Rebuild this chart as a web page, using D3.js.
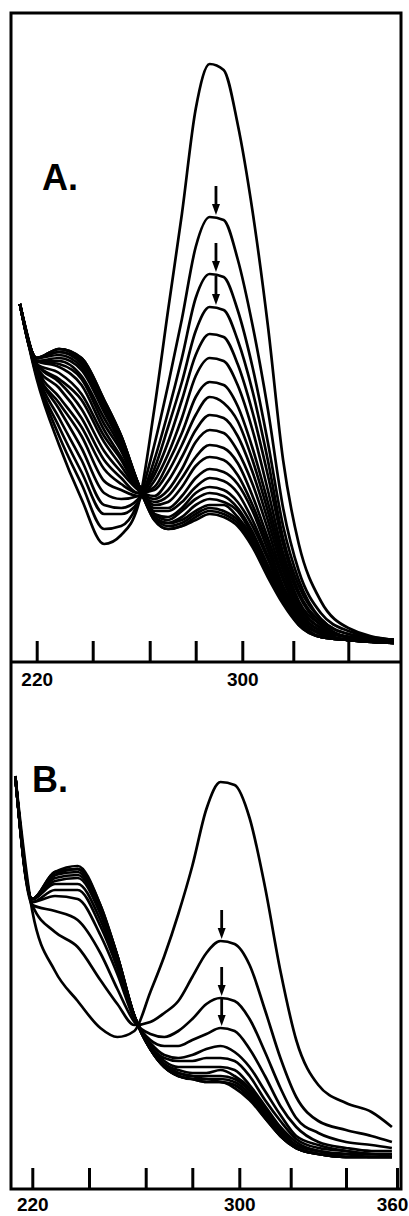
<!DOCTYPE html>
<html>
<head>
<meta charset="utf-8">
<script src="https://cdn.jsdelivr.net/npm/d3@7"></script>
<style>
body { margin: 0; background: #fff; }
svg { display: block; background: #fff; }
.axis text { font-family: 'Liberation Sans', Arial, sans-serif; font-weight: bold; font-size: 19px; fill: #000; }
.axis line, .axis path { stroke: #000; stroke-width: 3; }
.label { font-family: 'Liberation Sans', Arial, sans-serif; font-weight: bold; font-size: 36px; }
</style>
</head>
<body>
<svg id="chart" width="409" height="1216"></svg>
<script>
// wavelengths (nm) the spectra were read at
var wavelengthsA = [214, 220, 228, 236, 244, 250, 256, 262, 268, 274, 280, 286, 292, 298, 304, 310, 316, 322, 330, 340, 358]
var wavelengthsB = [214, 220, 228, 236, 244, 250, 256, 262, 268, 274, 280, 286, 292, 298, 304, 310, 316, 322, 330, 340, 350, 358]

// panel A absorbance, first scan to last
var spectraA = [
  [1.13, .88, .66, .48, .33, .36, .46, .78, 1.11, 1.43, 1.78, 1.93, 1.91, 1.73, 1.44, 1.06, .61, .33, .14, .05, .01],
  [1.13, .89, .69, .53, .38, .39, .47, .66, .86, 1.08, 1.32, 1.42, 1.41, 1.28, 1.06, .78, .45, .24, .10, .04, .01],
  [1.13, .89, .72, .57, .43, .43, .47, .61, .77, .95, 1.15, 1.23, 1.22, 1.11, .92, .67, .39, .21, .08, .03, .01],
  [1.13, .90, .75, .61, .46, .45, .48, .58, .72, .87, 1.04, 1.12, 1.11, 1.01, .84, .61, .35, .19, .08, .03, .01],
  [1.13, .91, .78, .65, .50, .48, .49, .56, .67, .81, .96, 1.03, 1.02, .93, .77, .56, .33, .17, .07, .02, .01],
  [1.13, .91, .80, .69, .54, .51, .49, .54, .63, .75, .89, .95, .94, .86, .71, .51, .30, .16, .06, .02, .01],
  [1.13, .92, .82, .72, .58, .53, .50, .52, .60, .70, .82, .87, .86, .79, .65, .47, .28, .14, .06, .02, .01],
  [1.13, .92, .85, .75, .61, .55, .50, .51, .57, .66, .76, .82, .80, .74, .61, .44, .26, .13, .05, .02, .01],
  [1.13, .93, .87, .78, .64, .57, .51, .49, .54, .62, .71, .76, .75, .69, .57, .41, .24, .12, .05, .02, .01],
  [1.13, .93, .88, .81, .67, .59, .51, .48, .51, .58, .67, .71, .70, .64, .53, .38, .22, .11, .04, .02, .01],
  [1.13, .93, .90, .83, .69, .61, .51, .47, .49, .55, .62, .66, .65, .60, .49, .35, .21, .10, .04, .01, .01],
  [1.13, .94, .92, .86, .71, .62, .52, .46, .47, .52, .59, .62, .61, .56, .46, .33, .19, .10, .04, .01, .01],
  [1.13, .94, .93, .88, .73, .64, .52, .45, .45, .49, .55, .58, .57, .53, .44, .31, .18, .09, .03, .01, 0],
  [1.13, .94, .94, .89, .75, .65, .52, .44, .44, .47, .52, .55, .54, .50, .41, .29, .17, .09, .03, .01, 0],
  [1.13, .94, .95, .91, .77, .66, .52, .43, .42, .45, .50, .52, .51, .47, .39, .28, .16, .08, .03, .01, 0],
  [1.13, .95, .96, .92, .78, .67, .53, .43, .41, .44, .48, .50, .49, .45, .37, .26, .16, .08, .03, .01, 0],
  [1.13, .95, .97, .93, .79, .68, .53, .42, .40, .42, .46, .48, .47, .44, .36, .25, .15, .07, .02, .01, 0],
  [1.13, .95, .97, .94, .80, .68, .53, .42, .40, .41, .44, .46, .46, .42, .35, .24, .14, .07, .02, .01, 0],
  [1.13, .95, .98, .94, .80, .69, .53, .42, .39, .40, .43, .45, .44, .41, .34, .24, .14, .07, .02, .01, 0],
  [1.13, .95, .98, .95, .81, .69, .53, .41, .38, .39, .42, .44, .43, .40, .33, .23, .14, .06, .02, .01, 0],
  [1.13, .95, .98, .95, .81, .69, .53, .41, .38, .39, .41, .43, .42, .39, .32, .22, .13, .06, .02, .01, 0]
]

// panel B absorbance
var spectraB = [
  [1.28, .83, .63, .53, .44, .41, .43, .56, .68, .82, .98, 1.17, 1.26, 1.25, 1.14, .91, .63, .40, .25, .19, .16, .11],
  [1.28, .85, .76, .71, .60, .52, .45, .46, .49, .53, .61, .69, .73, .72, .65, .50, .34, .21, .13, .10, .08, .06],
  [1.28, .85, .83, .80, .69, .57, .46, .42, .41, .43, .47, .52, .54, .53, .47, .36, .24, .14, .09, .06, .05, .04],
  [1.28, .86, .88, .87, .75, .62, .47, .40, .38, .38, .40, .42, .44, .43, .37, .28, .18, .11, .06, .04, .03, .03],
  [1.28, .86, .90, .90, .78, .64, .47, .39, .35, .34, .35, .37, .38, .36, .31, .23, .15, .08, .05, .03, .02, .02],
  [1.28, .87, .92, .92, .80, .65, .48, .38, .34, .33, .33, .34, .34, .33, .28, .20, .13, .07, .04, .03, .02, .02],
  [1.28, .87, .93, .94, .82, .66, .48, .38, .33, .31, .31, .31, .31, .30, .25, .18, .11, .06, .03, .02, .02, .01],
  [1.28, .87, .94, .95, .83, .67, .48, .37, .32, .30, .29, .29, .30, .28, .24, .17, .10, .05, .03, .02, .01, .01],
  [1.28, .87, .95, .96, .83, .67, .48, .37, .32, .29, .28, .28, .28, .27, .23, .16, .09, .05, .03, .01, .01, .01],
  [1.28, .87, .95, .97, .84, .68, .48, .37, .31, .29, .28, .27, .27, .26, .22, .15, .09, .04, .02, .01, .01, .01],
  [1.28, .87, .96, .97, .84, .68, .48, .37, .31, .28, .27, .27, .26, .25, .21, .15, .08, .04, .02, .01, .01, .01],
  [1.28, .87, .96, .97, .85, .68, .48, .37, .31, .28, .27, .26, .26, .25, .21, .14, .08, .04, .02, .01, .01, .01],
  [1.28, .87, .96, .98, .85, .68, .48, .37, .31, .28, .27, .26, .26, .24, .20, .14, .08, .04, .02, .01, .01, .01]
]

var scaleNm = [220, 240, 260, 280, 300, 320, 340, 360]
var tickValuesA = [220, 240, 260, 280, 300, 320, 340]
var tickValuesB = [220, 240, 260, 280, 300, 320, 340, 360]
var tickLabels = [220, 300, 360]

// arrows mark the 2nd-4th scans at the band maximum
var arrowCurves = [1, 2, 3]
var arrowNmA = 288.7
var arrowNmB = 292.5

var svg = d3.select('#chart')

// chart paper wavelength scale is a bit uneven, so map each ruled tick
var xA = d3.scaleLinear().domain(scaleNm).range([36.7, 92.7, 149.7, 195.7, 242.3, 293.3, 348.3, 399])
var xB = d3.scaleLinear().domain(scaleNm).range([32.3, 89, 145.7, 192.3, 239.3, 290.7, 346, 397])
var yA = d3.scaleLinear().domain([0, 2]).range([643, 43])
var yB = d3.scaleLinear().domain([0, 1.4]).range([1160, 740])

// frame
svg.append('rect')
  .attr('x', 11).attr('y', 13)
  .attr('width', 390).attr('height', 1176)
  .attr('fill', 'none')
  .attr('stroke', '#000')
  .attr('stroke-width', 3)

svg.append('line')
  .attr('x1', 11).attr('x2', 401)
  .attr('y1', 662).attr('y2', 662)
  .attr('stroke', '#000')
  .attr('stroke-width', 3)

function drawPanel(x, y, wl, spectra, ticks, axisY, pad, arrowNm, name, nameX, nameY){
  var line = d3.line()
    .x((d, i) => x(wl[i]))
    .y(d => y(d))
    .curve(d3.curveMonotoneX)

  svg.append('g')
    .selectAll('path')
    .data(spectra)
    .join('path')
    .attr('d', line)
    .attr('fill', 'none')
    .attr('stroke', '#000')
    .attr('stroke-width', 2.7)
    .attr('stroke-linejoin', 'round')

  var axis = d3.axisBottom(x)
    .tickValues(ticks)
    .tickSizeInner(-21)
    .tickSizeOuter(0)
    .tickPadding(pad)
    .tickFormat(d => tickLabels.includes(d) ? d : '')

  var ax = svg.append('g')
    .attr('class', 'axis')
    .attr('transform', 'translate(0,' + axisY + ')')
    .call(axis)
    .call(g => g.select('.domain').remove())

  // last label sits on the frame edge, nudge it in
  ax.selectAll('.tick text').filter(d => d == 360).attr('dx', -5)

  // peak height of the long-wavelength band
  var peak = d => d3.max(spectra[d].filter((v, i) => wl[i] >= 270))

  // arrows pointing down onto the peaks
  var ag = svg.append('g').selectAll('g')
    .data(arrowCurves)
    .join('g')

  ag.append('line')
    .attr('x1', x(arrowNm)).attr('x2', x(arrowNm))
    .attr('y1', d => y(peak(d)) - 31)
    .attr('y2', d => y(peak(d)) - 8)
    .attr('stroke', '#000')
    .attr('stroke-width', 2.8)

  ag.append('path')
    .attr('d', d => {
      var tx = x(arrowNm), ty = y(peak(d)) - 2
      return 'M' + (tx - 4) + ',' + (ty - 11) + 'L' + (tx + 4) + ',' + (ty - 11) + 'L' + tx + ',' + ty + 'Z'
    })
    .attr('fill', '#000')

  svg.append('text')
    .attr('class', 'label')
    .attr('x', nameX).attr('y', nameY)
    .text(name)
}

drawPanel(xA, yA, wavelengthsA, spectraA, tickValuesA, 662, 11, arrowNmA, 'A.', 42, 190)
drawPanel(xB, yB, wavelengthsB, spectraB, tickValuesB, 1189, 9, arrowNmB, 'B.', 32, 792)

</script>
</body>
</html>
